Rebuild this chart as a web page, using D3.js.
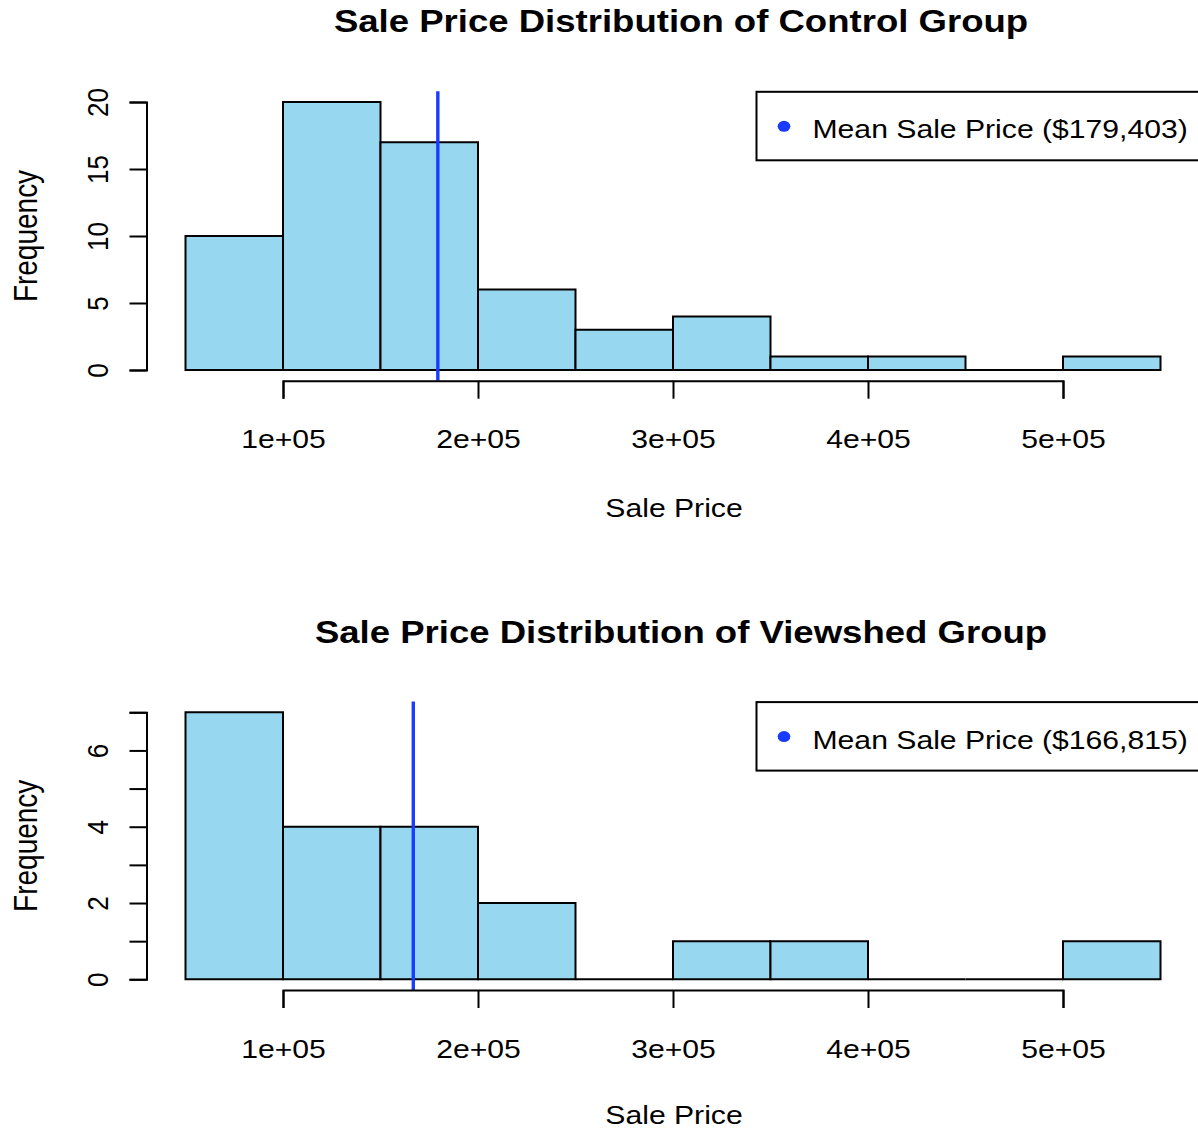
<!DOCTYPE html>
<html>
<head>
<meta charset="utf-8">
<script src="https://cdn.jsdelivr.net/npm/d3@7"></script>
<style>
  body { margin: 0; background: #fff; }
  svg { display: block; font-family: "Liberation Sans", Arial, sans-serif; }
</style>
</head>
<body>
<div id="chart"></div>
<script>
// histogram breaks (sale price) and counts per bin
const breaks = [50000, 100000, 150000, 200000, 250000, 300000, 350000, 400000, 450000, 500000, 550000];
const controlCounts = [10, 20, 17, 6, 3, 4, 1, 1, 0, 1];
const viewshedCounts = [7, 4, 4, 2, 0, 1, 1, 0, 0, 1];
const controlMean = 179403;
const viewshedMean = 166815;
const xTickValues = [100000, 200000, 300000, 400000, 500000];
const xTickLabels = ["1e+05", "2e+05", "3e+05", "4e+05", "5e+05"];
const controlYTicks = [0, 5, 10, 15, 20];
const viewshedYTicks = [0, 1, 2, 3, 4, 5, 6, 7];

const w = 1198;
const h = 1130;
const sx = 1.16; // the picture is stretched a bit horizontally
const barFill = "#97d7ef";
const meanColor = "#1a3cff";
const fmt = d3.format(",");

const svg = d3.select("#chart")
  .append("svg")
  .attr("width", w)
  .attr("height", h);

function drawPanel(opts) {
  const top = opts.top, bottom = opts.bottom;
  const ymax = opts.ymax;
  const bins = opts.counts.map((c, i) => ({ x0: breaks[i], x1: breaks[i + 1], count: c }));

  const xScale = d3.scaleLinear()
    .domain([30000, 570000])
    .range([146.5, 1199.5]);

  const yScale = d3.scaleLinear()
    .domain([-0.04 * ymax, 1.04 * ymax])
    .range([bottom, top]);

  const g = svg.append("g");

  // bars (paths so that empty bins still show a flat line)
  g.selectAll(".bar")
    .data(bins)
    .enter()
    .append("path")
    .attr("class", "bar")
    .attr("d", d => `M${xScale(d.x0)},${yScale(0)}V${yScale(d.count)}H${xScale(d.x1)}V${yScale(0)}Z`)
    .style("fill", barFill)
    .style("stroke", "#000")
    .style("stroke-width", 2);

  // mean line
  g.append("line")
    .attr("x1", xScale(opts.mean))
    .attr("x2", xScale(opts.mean))
    .attr("y1", top)
    .attr("y2", bottom)
    .style("stroke", meanColor)
    .style("stroke-width", 3.4);

  // x axis, only spanning the ticks like R does
  const xAxisScale = xScale.copy()
    .domain([xTickValues[0], xTickValues[xTickValues.length - 1]])
    .range([xScale(xTickValues[0]), xScale(xTickValues[xTickValues.length - 1])]);

  const xAxis = d3.axisBottom(xAxisScale)
    .tickValues(xTickValues)
    .tickFormat((d, i) => xTickLabels[i])
    .tickSize(18)
    .tickSizeOuter(18);

  const xg = g.append("g")
    .attr("transform", "translate(0," + bottom + ")")
    .call(xAxis);
  xg.select(".domain").style("stroke-width", 2);
  xg.selectAll(".tick line").style("stroke-width", 2);
  xg.selectAll(".tick text")
    .attr("y", null)
    .attr("dy", null)
    .attr("transform", `translate(0,67.5) scale(${sx},1)`)
    .style("font-size", "26px")
    .style("font-family", "Liberation Sans, Arial, sans-serif")
    .attr("fill", "#000");

  // y axis
  const yAxisScale = yScale.copy()
    .domain([0, ymax])
    .range([yScale(0), yScale(ymax)]);

  const yAxis = d3.axisLeft(yAxisScale)
    .tickValues(opts.yTicks)
    .tickFormat(d => (opts.labelEvery ? (d % opts.labelEvery === 0 ? d : "") : d))
    .tickSize(17)
    .tickSizeOuter(17);

  const yg = g.append("g")
    .attr("transform", "translate(146.5,0)")
    .call(yAxis);
  yg.select(".domain").style("stroke-width", 2);
  yg.selectAll(".tick line").style("stroke-width", 2);
  yg.selectAll(".tick text")
    .attr("x", null)
    .attr("dy", null)
    .attr("text-anchor", "middle")
    .attr("transform", `translate(-39,0) scale(${sx},1) rotate(-90)`)
    .style("font-size", "26px")
    .style("font-family", "Liberation Sans, Arial, sans-serif")
    .attr("fill", "#000");

  // titles
  g.append("text")
    .attr("transform", `translate(681,${top - 59}) scale(${sx},1)`)
    .attr("text-anchor", "middle")
    .style("font-size", "31.5px")
    .style("font-weight", "bold")
    .text(opts.title);

  g.append("text")
    .attr("transform", `translate(674,${bottom + opts.xlabGap}) scale(${sx},1)`)
    .attr("text-anchor", "middle")
    .style("font-size", "26px")
    .text("Sale Price");

  g.append("text")
    .attr("transform", `translate(37,${(top + bottom) / 2}) scale(${sx},1) rotate(-90)`)
    .attr("text-anchor", "middle")
    .style("font-size", "28px")
    .text("Frequency");

  // legend
  const legend = g.append("g").attr("class", "legend");
  legend.append("rect")
    .attr("x", 756.5)
    .attr("y", top + 0.5)
    .attr("width", 460)
    .attr("height", 68.5)
    .style("fill", "#fff")
    .style("stroke", "#000")
    .style("stroke-width", 2);
  legend.append("ellipse")
    .attr("cx", 784)
    .attr("cy", top + 35)
    .attr("rx", 5.5 * sx)
    .attr("ry", 5.5)
    .style("fill", meanColor);
  legend.append("text")
    .attr("transform", `translate(812.5,${top + 47}) scale(${sx},1)`)
    .style("font-size", "26px")
    .text(`Mean Sale Price ($${fmt(opts.mean)})`);
}

drawPanel({
  top: 91.3, bottom: 380.7, ymax: 20,
  counts: controlCounts, mean: controlMean,
  yTicks: controlYTicks, xlabGap: 136,
  title: "Sale Price Distribution of Control Group"
});

drawPanel({
  top: 701.6, bottom: 990, ymax: 7,
  counts: viewshedCounts, mean: viewshedMean,
  yTicks: viewshedYTicks, labelEvery: 2, xlabGap: 134,
  title: "Sale Price Distribution of Viewshed Group"
});
</script>
</body>
</html>
